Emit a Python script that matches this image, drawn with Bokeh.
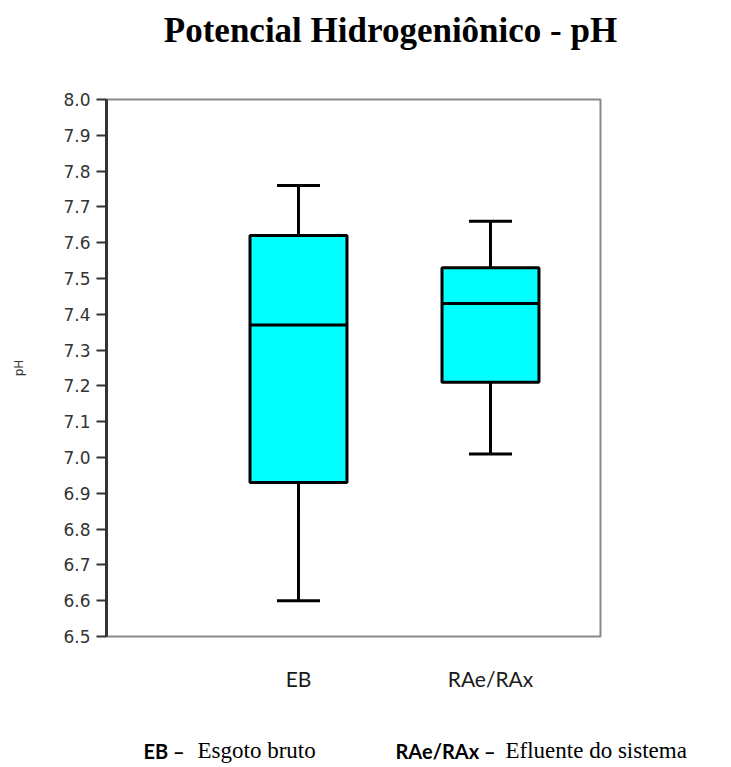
from bokeh.plotting import figure
from bokeh.models import Range1d, FixedTicker, Label, ColumnDataSource
from bokeh.layouts import column
from bokeh.embed import file_html
from bokeh.resources import INLINE

categories = ["EB", "RAe/RAx"]
positions = [1, 2]
lower_whisker = [6.60, 7.01]
q1 = [6.93, 7.21]
median = [7.37, 7.43]
q3 = [7.62, 7.53]
upper_whisker = [7.76, 7.66]
y_ticks = [6.5, 6.6, 6.7, 6.8, 6.9, 7.0, 7.1, 7.2, 7.3, 7.4, 7.5, 7.6, 7.7, 7.8, 7.9, 8.0]
title_text = "Potencial Hidrogeniônico - pH"
foot_keys = ["EB –", "RAe/RAx –"]
foot_desc = ["Esgoto bruto", "Efluente do sistema"]

box_w = 0.505
cap_w = 0.224

W = 731
HEAD_H, MAIN_H, FOOT_H = 70, 647, 50


def blank(h, y0, y1):
    f = figure(width=W, height=h, output_backend="svg", toolbar_location=None,
               x_range=Range1d(0, W), y_range=Range1d(y1, y0),
               x_axis_type=None, y_axis_type=None, min_border=0, frame_align=False)
    f.grid.visible = False
    f.outline_line_color = None
    f.background_fill_color = "white"
    f.border_fill_color = "white"
    return f


# header with title
head = blank(HEAD_H, 0, HEAD_H)
head.add_layout(Label(x=390, y=30, text=title_text, text_align="center", text_baseline="alphabetic",
                      text_font="Liberation Serif", text_font_style="bold",
                      text_font_size="35px", text_color="black"))

# main chart
src = ColumnDataSource(dict(
    x=positions, lo=lower_whisker, q1=q1, med=median, q3=q3, hi=upper_whisker,
    left=[p - box_w / 2 for p in positions], right=[p + box_w / 2 for p in positions],
    cl=[p - cap_w / 2 for p in positions], cr=[p + cap_w / 2 for p in positions],
))

p = figure(width=W, height=MAIN_H, output_backend="svg", toolbar_location=None,
           x_range=Range1d(0.0, 2.573), y_range=Range1d(6.5, 8.0), frame_align=False,
           min_border_left=106, min_border_right=131, min_border_top=29, min_border_bottom=81)
p.background_fill_color = "white"
p.border_fill_color = "white"
p.grid.visible = False
p.outline_line_color = "#8a8a8a"
p.outline_line_width = 2

p.segment(x0="x", y0="q3", x1="x", y1="hi", source=src, line_color="black", line_width=3)
p.segment(x0="x", y0="lo", x1="x", y1="q1", source=src, line_color="black", line_width=3)
p.segment(x0="cl", y0="hi", x1="cr", y1="hi", source=src, line_color="black", line_width=3)
p.segment(x0="cl", y0="lo", x1="cr", y1="lo", source=src, line_color="black", line_width=3)
p.quad(left="left", right="right", bottom="q1", top="q3", source=src,
       fill_color="#00FFFF", line_color="black", line_width=3)
p.segment(x0="left", y0="med", x1="right", y1="med", source=src, line_color="black", line_width=3)

p.yaxis.ticker = FixedTicker(ticks=y_ticks)
p.yaxis.major_label_overrides = {t: f"{t:.1f}" for t in y_ticks}
p.yaxis.axis_line_color = "#333333"
p.yaxis.axis_line_width = 3
p.yaxis.major_tick_line_color = "#333333"
p.yaxis.major_tick_line_width = 2
p.yaxis.major_tick_out = 10
p.yaxis.major_tick_in = 0
p.yaxis.minor_tick_line_color = None
p.yaxis.major_label_text_font = "DejaVu Sans"
p.yaxis.major_label_text_font_size = "17px"
p.yaxis.major_label_text_color = "#333333"
p.yaxis.major_label_standoff = 6
p.yaxis.axis_label = "pH"
p.yaxis.axis_label_text_font = "DejaVu Sans"
p.yaxis.axis_label_text_font_size = "12px"
p.yaxis.axis_label_text_font_style = "normal"
p.yaxis.axis_label_text_color = "#333333"
p.yaxis.axis_label_standoff = 34

p.xaxis.ticker = FixedTicker(ticks=positions)
p.xaxis.major_label_overrides = {pos: c for pos, c in zip(positions, categories)}
p.xaxis.axis_line_color = None
p.xaxis.major_tick_line_color = None
p.xaxis.minor_tick_line_color = None
p.xaxis.major_label_standoff = 23
p.xaxis.major_label_text_font = "Lato"
p.xaxis.major_label_text_font_size = "21px"
p.xaxis.major_label_text_color = "#1a1a1a"

# footer with footnotes
foot = blank(FOOT_H, HEAD_H + MAIN_H, HEAD_H + MAIN_H + FOOT_H)
key_x = [143, 395]
desc_x = [197, 505]
for k, kx, d, dx in zip(foot_keys, key_x, foot_desc, desc_x):
    foot.add_layout(Label(x=kx, y=750, text=k, text_align="left", text_baseline="alphabetic",
                          text_font="Lato", text_font_style="bold", text_font_size="20px",
                          text_color="black"))
    foot.add_layout(Label(x=dx, y=750, text=d, text_align="left", text_baseline="alphabetic",
                          text_font="Liberation Serif", text_font_size="23px", text_color="black"))

layout = column(head, p, foot, spacing=0)
open("out.html", "w").write(file_html(layout, INLINE))
